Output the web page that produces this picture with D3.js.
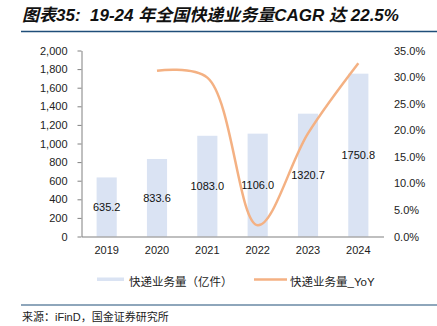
<!DOCTYPE html>
<html>
<head>
<meta charset="utf-8">
<script src="https://cdn.jsdelivr.net/npm/d3@7"></script>
<style>
  body { margin: 0; background: #fff; }
  svg { display: block; font-family: "Liberation Sans", Arial, sans-serif; }
</style>
</head>
<body>
<script>
// chart data
const years = ['2019', '2020', '2021', '2022', '2023', '2024']
const volume = [635.2, 833.6, 1083.0, 1106.0, 1320.7, 1750.8]
const yoy = [null, 0.312, 0.299, 0.021, 0.194, 0.326]
const leftTicks = [0, 200, 400, 600, 800, 1000, 1200, 1400, 1600, 1800, 2000]
const rightTicks = [0, 0.05, 0.10, 0.15, 0.20, 0.25, 0.30, 0.35]

const W = 437, H = 326
const plot = {left: 81.5, right: 383.5, top: 50.5, bottom: 236.5}

const svg = d3.select('body').append('svg')
    .attr('width', W)
    .attr('height', H)

// title
svg.append('text')
    .attr('x', 22)
    .attr('y', 21)
    .attr('font-size', 17)
    .attr('font-weight', 'bold')
    .attr('font-style', 'italic')
    .attr('font-family', '"Liberation Sans", "Noto Sans CJK SC", sans-serif')
    .attr('fill', '#111')
    .style('white-space', 'pre')
    .text('图表35:  19-24 年全国快递业务量CAGR 达 22.5%')

svg.append('line')
    .attr('x1', 21).attr('x2', W)
    .attr('y1', 31.5).attr('y2', 31.5)
    .attr('stroke', '#1f4e79')
    .attr('stroke-width', 1.5)

// scales
const x = d3.scaleBand()
    .domain(years)
    .range([plot.left, plot.right])
    .paddingInner(0.6)
    .paddingOuter(0.3)
const yL = d3.scaleLinear().domain([0, 2000]).range([plot.bottom, plot.top])
const yR = d3.scaleLinear().domain([0, 0.35]).range([plot.bottom, plot.top])

// bars
svg.selectAll('.bar')
    .data(volume)
    .enter().append('rect')
    .attr('class', 'bar')
    .attr('x', (d, i) => x(years[i]))
    .attr('width', x.bandwidth())
    .attr('y', d => yL(d))
    .attr('height', d => yL(0) - yL(d))
    .attr('fill', '#dae3f3')

// left axis
const gl = svg.append('g')
    .attr('transform', 'translate(' + plot.left + ',0)')
    .call(d3.axisLeft(yL).tickValues(leftTicks).tickFormat(d3.format(',')).tickSize(4).tickSizeOuter(0).tickPadding(10))
gl.selectAll('path, line').attr('stroke', '#808080')
gl.selectAll('text').attr('font-size', 11).attr('fill', '#222')
gl.attr('font-family', null)

// right axis
const gr = svg.append('g')
    .attr('transform', 'translate(' + plot.right + ',0)')
    .call(d3.axisRight(yR).tickValues(rightTicks).tickFormat(d3.format('.1%')).tickSize(0).tickPadding(10.5))
gr.select('.domain').remove()
gr.selectAll('text').attr('font-size', 11).attr('fill', '#222')
gr.attr('font-family', null)

// bottom axis
const gb = svg.append('g')
    .attr('transform', 'translate(0,' + plot.bottom + ')')
    .call(d3.axisBottom(x).tickSize(0).tickPadding(10))
gb.select('.domain').attr('stroke', '#808080').attr('stroke-width', 1.2)
gb.selectAll('text').attr('font-size', 11).attr('fill', '#222')
gb.attr('font-family', null)

// value labels
svg.selectAll('.val')
    .data(volume)
    .enter().append('text')
    .attr('class', 'val')
    .attr('x', (d, i) => x(years[i]) + x.bandwidth() / 2)
    .attr('y', d => (yL(d) + yL(0)) / 2)
    .attr('dy', '0.35em')
    .attr('text-anchor', 'middle')
    .attr('font-size', 11)
    .attr('fill', '#111')
    .text(d => d.toFixed(1))

// yoy line
const pts = yoy.map((v, i) => [years[i], v]).filter(d => d[1] !== null)
const line = d3.line()
    .x(d => x(d[0]) + x.bandwidth() / 2)
    .y(d => yR(d[1]))
    .curve(d3.curveCatmullRom.alpha(0.5))
svg.append('path')
    .datum(pts)
    .attr('d', line)
    .attr('fill', 'none')
    .attr('stroke', '#f4b183')
    .attr('stroke-width', 2.5)

// legend
const lg = svg.append('g').attr('font-size', 11.5).attr('font-family', '"Liberation Sans", "Noto Sans CJK SC", sans-serif')
lg.append('rect')
    .attr('x', 97).attr('y', 277.5)
    .attr('width', 27).attr('height', 3.5)
    .attr('fill', '#dae3f3')
lg.append('text')
    .attr('x', 129).attr('y', 282).attr('dy', '0.35em')
    .attr('fill', '#222')
    .text('快递业务量（亿件）')
lg.append('line')
    .attr('x1', 254).attr('x2', 287)
    .attr('y1', 279.5).attr('y2', 279.5)
    .attr('stroke', '#f4b183')
    .attr('stroke-width', 2.5)
lg.append('text')
    .attr('x', 290).attr('y', 282).attr('dy', '0.35em')
    .attr('fill', '#222')
    .text('快递业务量_YoY')

// footer
svg.append('line')
    .attr('x1', 21).attr('x2', W)
    .attr('y1', 305).attr('y2', 305)
    .attr('stroke', '#1f4e79')
    .attr('stroke-width', 1.2)
svg.append('text')
    .attr('x', 22).attr('y', 317).attr('dy', '0.35em')
    .attr('font-size', 11)
    .attr('font-family', '"Liberation Sans", "Noto Sans CJK SC", sans-serif')
    .attr('fill', '#222')
    .text('来源：iFinD，国金证券研究所')
</script>
</body>
</html>
